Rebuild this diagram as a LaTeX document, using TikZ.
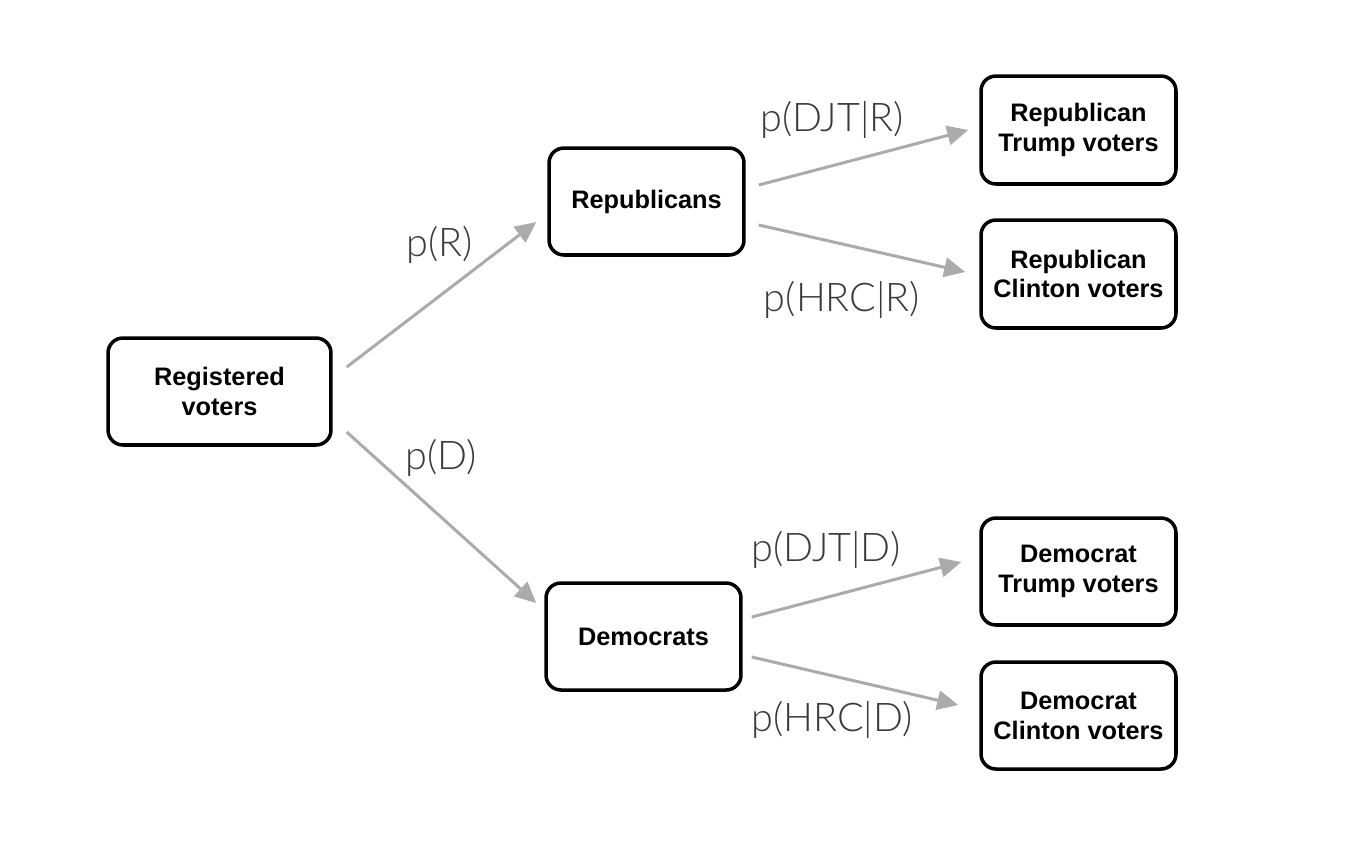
\documentclass[tikz,border=0pt]{standalone}
\usepackage{fontspec}
\setmainfont{Liberation Sans}
\newfontfamily\lightfont{Lato Light}
\usetikzlibrary{arrows.meta}
\definecolor{arrgray}{HTML}{ABABAB}
\definecolor{labgray}{HTML}{3A3A3A}
\begin{document}
\begin{tikzpicture}[x=0.02cm,y=-0.02cm,
  box/.style={draw=black, line width=2pt, rounded corners=8.5pt, fill=white,
    minimum width=3.9cm, minimum height=2.14cm, align=center,
    font=\fontsize{14.4}{17}\selectfont\bfseries, inner sep=0pt},
  arr/.style={draw=arrgray, line width=1.7pt, -{Triangle[length=12pt,width=11pt]}},
  lab/.style={font=\lightfont\fontsize{22.5}{25}\selectfont, text=labgray, inner sep=0pt}]
\fill[white] (0,0) rectangle (1358,860);
\node[box, minimum width=4.46cm] (reg) at (219.5,391.5) {Registered\\voters};
\node[box] (rep) at (646.5,201.5) {Republicans};
\node[box] (dem) at (643.5,636.5) {Democrats};
\node[box, minimum height=2.16cm] (rt) at (1078.5,130) {Republican\\Trump voters};
\node[box, minimum height=2.16cm] (rc) at (1078.5,274) {Republican\\Clinton voters};
\node[box] (dt) at (1078.5,571.5) {Democrat\\Trump voters};
\node[box] (dc) at (1078.5,715.5) {Democrat\\Clinton voters};

\draw[arr] ([xshift=0.28cm,yshift=0.49cm]reg.east) -- ([xshift=-0.22cm,yshift=-0.41cm]rep.west);
\draw[arr] ([xshift=0.28cm,yshift=-0.81cm]reg.east) -- ([xshift=-0.16cm,yshift=0.67cm]dem.west);
\draw[arr] ([xshift=0.26cm,yshift=0.33cm]rep.east) -- ([xshift=-0.22cm,yshift=0cm]rt.west);
\draw[arr] ([xshift=0.26cm,yshift=-0.47cm]rep.east) -- ([xshift=-0.28cm,yshift=0.04cm]rc.west);
\draw[arr] ([xshift=0.18cm,yshift=0.39cm]dem.east) -- ([xshift=-0.36cm,yshift=0.19cm]dt.west);
\draw[arr] ([xshift=0.18cm,yshift=-0.41cm]dem.east) -- ([xshift=-0.42cm,yshift=0.21cm]dc.west);

\node[lab] (lR) at (440,245) {p(R)};
\node[lab] (lD) at (441,458) {p(D)};
\node[lab] (lDJTR) at (832,120) {p(DJT|R)};
\node[lab] (lHRCR) at (842,300) {p(HRC|R)};
\node[lab] (lDJTD) at (826,550) {p(DJT|D)};
\node[lab] (lHRCD) at (832,720) {p(HRC|D)};
\end{tikzpicture}
\end{document}
